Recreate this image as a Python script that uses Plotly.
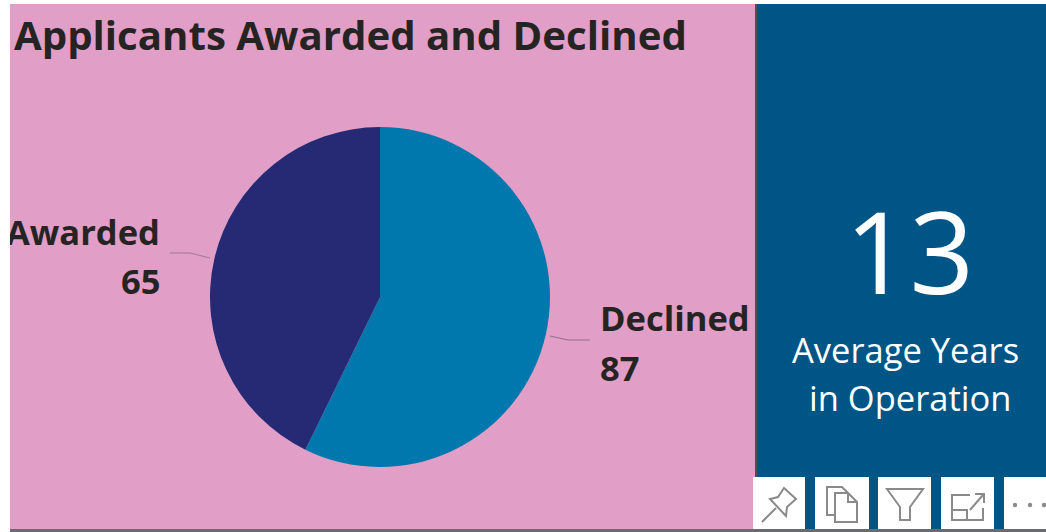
import plotly.graph_objects as go

W, H = 1046, 532
categories = ["Declined", "Awarded"]
values = [87, 65]
colors = ["#0178AD", "#262A75"]
kpi_value = "13"
kpi_label = ["Average Years", "in Operation"]
title = "Applicants Awarded and Declined"
FONT = "Open Sans"
INK = "#252423"


def px(x):
    return x / W


def py(y):
    return 1 - y / H


def rect(x0, y0, x1, y1, color):
    return dict(type="rect", xref="paper", yref="paper", x0=px(x0), x1=px(x1), y0=py(y1), y1=py(y0),
                fillcolor=color, line=dict(width=0), layer="below")


def path(points, color, width=2, close=False, fill=None):
    d = "M " + " L ".join(f"{px(x):.5f},{py(y):.5f}" for x, y in points) + (" Z" if close else "")
    return dict(type="path", xref="paper", yref="paper", path=d,
                line=dict(color=color, width=width), fillcolor=fill or "rgba(0,0,0,0)")


def dot(x, y, r, color):
    return dict(type="circle", xref="paper", yref="paper", x0=px(x - r), x1=px(x + r), y0=py(y + r), y1=py(y - r),
                fillcolor=color, line=dict(width=0))


def text(x, y, s, size, anchor="left", color=INK, bold=True):
    return dict(xref="paper", yref="paper", x=px(x), y=py(y), xanchor=anchor, yanchor="middle",
                text=f"<b>{s}</b>" if bold else s, showarrow=False,
                font=dict(family=FONT, size=size, color=color))


fig = go.Figure(go.Pie(
    labels=categories, values=values, sort=False, direction="clockwise", rotation=0,
    marker=dict(colors=colors, line=dict(width=0)), textinfo="none", hoverinfo="label+value",
    domain=dict(x=[px(210), px(550)], y=[py(467), py(127)]), showlegend=False,
))

GREY = "#8A8A8A"
shapes = [
    rect(0, 0, W, H, "#FFFFFF"),
    rect(10, 4, 755, 529, "#E19EC6"),
    rect(755, 4, 757, 529, "#50505A"),
    rect(757, 4, W, 529, "#005587"),
    rect(10, 529, W, 532, "#6A6A72"),
    path([(170, 253), (190, 253), (210, 258)], "#A07A98", 1),
    path([(550, 336), (568, 340), (590, 340)], "#8E6F8C", 1),
]
for x0, x1 in [(753, 805), (815, 869), (878, 931), (941, 994), (1004, W)]:
    shapes.append(rect(x0, 477, x1, 529, "#FFFFFF"))
shapes += [
    path([(762, 522), (776, 508)], GREY),
    path([(770, 499), (786, 516), (787, 507), (796, 499), (784, 488), (778, 497)], GREY, close=True),
    path([(835, 515), (827, 515), (827, 487), (842, 487), (848, 493)], GREY),
    path([(835, 493), (848, 493), (857, 502), (857, 522), (835, 522)], GREY, close=True),
    path([(848, 493), (848, 502), (857, 502)], GREY),
    path([(887, 489), (923, 489), (910, 507), (910, 520), (900, 520), (900, 507)], GREY, close=True),
    path([(970, 495), (952, 495), (952, 520), (983, 520), (983, 508)], GREY),
    path([(952, 510), (967, 510), (967, 520)], GREY),
    path([(970, 510), (983, 495)], GREY),
    path([(975, 494), (984, 494), (984, 503)], GREY),
    dot(1015, 505, 2.2, GREY),
    dot(1030, 505, 2.2, GREY),
    dot(1044, 505, 2.2, GREY),
]
annotations = [
    text(12, 34, title, 40.2),
    text(161.5, 231, categories[1], 34.5, "right"),
    text(161.5, 280, str(values[1]), 34.5, "right"),
    text(598, 317, categories[0], 34.5),
    text(598, 367, str(values[0]), 34.5),
    dict(xref="paper", yref="paper", x=0, y=py(232), xanchor="left", yanchor="middle", text=" ",
         showarrow=False, width=10, height=60, bgcolor="#FFFFFF", borderpad=0, borderwidth=0),
    text(909, 250, kpi_value, 113, "center", "#FFFFFF", False),
    text(905, 349, kpi_label[0], 34.5, "center", "#FFFFFF", False),
    text(910, 397, kpi_label[1], 34.5, "center", "#FFFFFF", False),
]
fig.update_layout(width=W, height=H, autosize=False, margin=dict(l=0, r=0, t=0, b=0),
                  paper_bgcolor="#FFFFFF", plot_bgcolor="#FFFFFF", shapes=shapes, annotations=annotations)
fig.write_html("out.html", config=dict(displayModeBar=False),
               post_script="document.body.style.margin='0';document.body.style.overflow='hidden';")
